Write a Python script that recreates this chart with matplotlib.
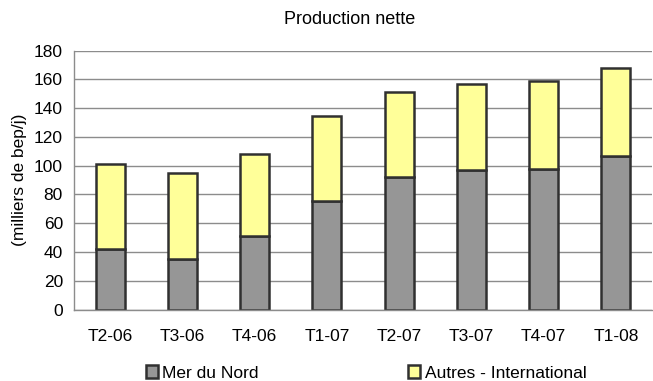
import matplotlib.pyplot as plt
import numpy as np
from matplotlib.patches import Patch

plt.rcParams['font.family'] = ['Liberation Sans', 'DejaVu Sans']

# production trimestrielle (milliers de bep/j)
trimestres = ['T2-06', 'T3-06', 'T4-06', 'T1-07', 'T2-07', 'T3-07', 'T4-07', 'T1-08']
mer_du_nord = [42, 35, 51, 75.5, 92.5, 97, 98, 107]
total = [101, 95, 108.5, 134.5, 151, 157, 159, 168]
autres = [t - m for t, m in zip(total, mer_du_nord)]

gris = '#969696'
jaune = '#FFFF99'
bord = '#303030'

fig = plt.figure(figsize=(6.53, 3.81), dpi=100)
ax = fig.add_axes([74 / 653, 71.5 / 381, 578 / 653, 258.8 / 381])

x = np.arange(len(trimestres))
ax.bar(x, mer_du_nord, width=0.4, color=gris, edgecolor=bord, linewidth=1.8, zorder=3)
ax.bar(x, autres, width=0.4, bottom=mer_du_nord, color=jaune, edgecolor=bord, linewidth=1.8, zorder=3)

ax.set_xlim(-0.5, len(trimestres) - 0.5)
ax.set_ylim(0, 180)
ax.set_yticks(range(0, 181, 20))
ax.set_xticks(x)
ax.set_xticklabels(trimestres)
ax.tick_params(axis='both', length=0, labelsize=12.5, colors='black')
ax.tick_params(axis='x', pad=14)
ax.tick_params(axis='y', pad=8)
ax.yaxis.grid(True, color='#8c8c8c', linewidth=1.0, zorder=0)

for s in ['top', 'right']:
    ax.spines[s].set_visible(False)
ax.spines['left'].set_color('#8c8c8c')
ax.spines['bottom'].set_color('#8c8c8c')
ax.spines['left'].set_linewidth(1.0)
ax.spines['bottom'].set_linewidth(1.0)
ax.spines['bottom'].set_zorder(4)

ax.set_ylabel('(milliers de bep/j)', fontsize=12.5, labelpad=5)
fig.text(350 / 653, 1 - 19 / 381, 'Production nette', ha='center', va='center', fontsize=13)

handles = [Patch(facecolor=gris, edgecolor=bord, linewidth=1.8, label='Mer du Nord'),
           Patch(facecolor=jaune, edgecolor=bord, linewidth=1.8, label='Autres - International')]
fig.legend(handles=handles, loc='center', bbox_to_anchor=(366 / 653, 1 - 373 / 381), ncol=2,
           frameon=False, fontsize=12.5, handlelength=0.7, handleheight=0.7,
           handletextpad=0.25, columnspacing=8.6, borderpad=0)

fig.savefig('out.png', dpi=100)
